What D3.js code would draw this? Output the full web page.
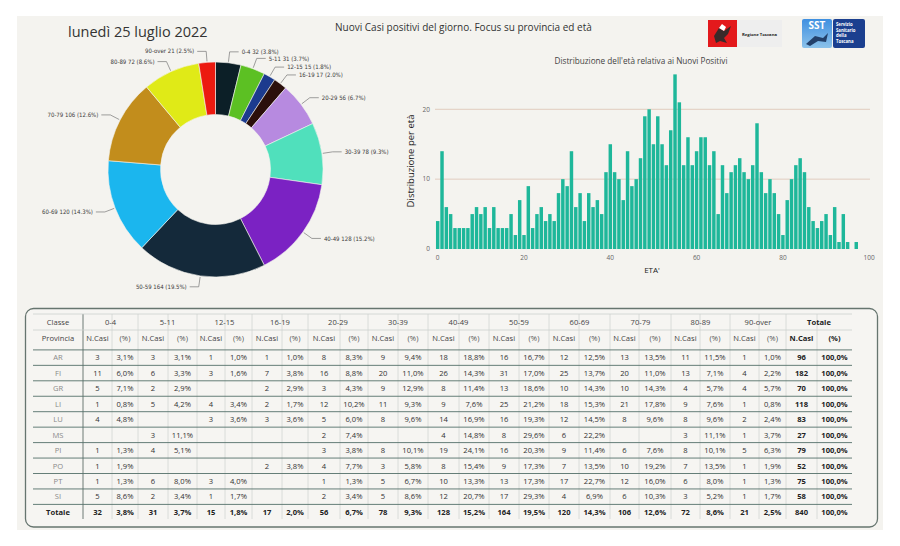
<!DOCTYPE html>
<html>
<head>
<meta charset="utf-8">
<script src="https://cdn.jsdelivr.net/npm/d3@7"></script>
<style>
  body { margin: 0; background: #fff; }
  svg { display: block; font-family: "Open Sans", sans-serif; }
</style>
</head>
<body>
<div id="vis"></div>
<script>
// age classes and provinces
const classes = ["0-4", "5-11", "12-15", "16-19", "20-29", "30-39", "40-49", "50-59", "60-69", "70-79", "80-89", "90-over"];
const provinces = ["AR", "FI", "GR", "LI", "LU", "MS", "PI", "PO", "PT", "SI"];

// new cases per province, one value per class (null = empty cell)
const casesAR = [3, 3, 1, 1, 8, 9, 18, 16, 12, 13, 11, 1];
const casesFI = [11, 6, 3, 7, 16, 20, 26, 31, 25, 20, 13, 4];
const casesGR = [5, 2, null, 2, 3, 9, 8, 13, 10, 10, 4, 4];
const casesLI = [1, 5, 4, 2, 12, 11, 9, 25, 18, 21, 9, 1];
const casesLU = [4, null, 3, 3, 5, 8, 14, 16, 12, 8, 8, 2];
const casesMS = [null, 3, null, null, 2, null, 4, 8, 6, null, 3, 1];
const casesPI = [1, 4, null, null, 3, 8, 19, 16, 9, 6, 8, 5];
const casesPO = [1, null, null, 2, 4, 3, 8, 9, 7, 10, 7, 1];
const casesPT = [1, 6, 3, null, 1, 5, 10, 13, 17, 12, 6, 1];
const casesSI = [5, 2, 1, null, 2, 5, 12, 17, 4, 6, 3, 1];

// new positives by single year of age, index = age (0..97)
const ageCounts = [
  4, 14, 6, 5, 3, 3, 3, 3, 5, 6,
  5, 6, 3, 6, 3, 3, 3, 5, 2, 7,
  2, 9, 3, 5, 6, 4, 5, 4, 8, 10,
  9, 14, 6, 8, 4, 8, 6, 7, 5, 11,
  15, 11, 10, 7, 14, 9, 10, 13, 19, 20,
  15, 19, 15, 12, 17, 25, 21, 12, 16, 12,
  14, 16, 16, 12, 14, 5, 12, 8, 11, 12,
  13, 11, 10, 12, 18, 11, 8, 10, 8, 5,
  2, 7, 10, 12, 13, 11, 6, 4, 3, 4,
  5, 2, 6, 1, 5, 1, 0, 1
];
const histTicksX = [0, 20, 40, 60, 80, 100];
const histTicksY = [0, 10, 20];

const sliceColors = ["#0c1f27", "#5cc023", "#1c3b8e", "#2b0f0b", "#b78ae0", "#50e0bc",
                     "#7b22c3", "#14293a", "#1bb6ee", "#c28d1c", "#e0ea17", "#ec1a10"];

const width = 900, height = 546;
const rows = [casesAR, casesFI, casesGR, casesLI, casesLU, casesMS, casesPI, casesPO, casesPT, casesSI];
const classTotals = classes.map((c, j) => d3.sum(rows, r => r[j] || 0));
const grandTotal = d3.sum(classTotals);

const svg = d3.select("#vis").append("svg")
  .attr("width", width).attr("height", height)
  .attr("viewBox", [0, 0, width, height]);

// page panel
svg.append("rect").attr("x", 17).attr("y", 16).attr("width", 866).attr("height", 514)
  .attr("fill", "#f4f3ef");

// titles
svg.append("text").attr("x", 68).attr("y", 37)
  .style("font-size", "14.5px").attr("fill", "#333")
  .text("lunedì 25 luglio 2022");
svg.append("text").attr("x", 335).attr("y", 31)
  .style("font-size", "10px").attr("fill", "#333")
  .text("Nuovi Casi positivi del giorno. Focus su provincia ed età");

// logos
const logo = svg.append("g");
logo.append("rect").attr("x", 708).attr("y", 20).attr("width", 29).attr("height", 27).attr("fill", "#e3191c");
logo.append("path").attr("d", "M714,36 L719,28 L724,31 L731,26 L728,34 L724,38 L727,43 L720,41 L716,43 Z")
  .attr("fill", "#3a2a2a");
logo.append("path").attr("d", "M719,28 L722,24 L726,27 L724,31 Z").attr("fill", "#fff");
logo.append("rect").attr("x", 737).attr("y", 20).attr("width", 45).attr("height", 27).attr("fill", "#eeeeee");
logo.append("text").attr("x", 759.5).attr("y", 35.5).attr("text-anchor", "middle")
  .style("font-size", "4.2px").style("font-weight", "bold").attr("fill", "#222").text("Regione Toscana");

const grad = svg.append("defs").append("linearGradient").attr("id", "sstg")
  .attr("x1", 0).attr("y1", 0).attr("x2", 0).attr("y2", 1);
grad.append("stop").attr("offset", 0).attr("stop-color", "#3f8fe0");
grad.append("stop").attr("offset", 1).attr("stop-color", "#8cc2ea");
logo.append("rect").attr("x", 802).attr("y", 19).attr("width", 30).attr("height", 29).attr("rx", 2).attr("fill", "url(#sstg)");
logo.append("text").attr("x", 817).attr("y", 29).attr("text-anchor", "middle")
  .style("font-size", "10px").style("font-weight", "bold").attr("fill", "#fff").text("SST");
logo.append("path").attr("d", "M806,44 L815,36 L823,38 L828,33 L826,42 L818,41 L810,46 Z").attr("fill", "#23406a");
logo.append("rect").attr("x", 833).attr("y", 19).attr("width", 32).attr("height", 29).attr("rx", 2).attr("fill", "#1b3f8f");
["Servizio", "Sanitario", "della", "Toscana"].forEach((t, i) => {
  logo.append("text").attr("x", 836).attr("y", 26 + i * 5.6)
    .style("font-size", "4.3px").style("font-weight", "bold").attr("fill", "#fff").text(t);
});

// ---------- donut ----------
function donut() {
  const cx = 215.5, cy = 169.5, rOut = 107.5, rIn = 55;
  const pie = d3.pie().sort(null).value(d => d.value);
  const arcs = pie(classes.map((c, i) => ({ name: c, value: classTotals[i], color: sliceColors[i] })));
  const arc = d3.arc().innerRadius(rIn).outerRadius(rOut);
  const g = svg.append("g").attr("transform", `translate(${cx},${cy})`);

  g.selectAll("path").data(arcs).join("path")
    .attr("d", arc)
    .attr("fill", d => d.data.color)
    .attr("stroke", "#f4f3ef").attr("stroke-width", 0.6);

  const pt = (a, r) => [r * Math.sin(a), -r * Math.cos(a)];
  const fmt = d3.format(".1f");

  const lab = g.append("g");
  arcs.forEach(d => {
    const a = (d.startAngle + d.endAngle) / 2;
    const right = a < Math.PI;
    const p1 = pt(a, rOut + 1), p2 = pt(a, rOut + 11);
    const p3 = [p2[0] + (right ? 9 : -9), p2[1]];
    lab.append("polyline")
      .attr("points", [p1, p2, p3].map(p => p.join(",")).join(" "))
      .attr("fill", "none").attr("stroke", "#777").attr("stroke-width", 0.7);
    lab.append("text")
      .attr("x", p3[0] + (right ? 3 : -3)).attr("y", p2[1]).attr("dy", "0.35em")
      .attr("text-anchor", right ? "start" : "end")
      .style("font-family", "'DejaVu Sans Condensed', sans-serif")
      .style("font-size", "6px").attr("fill", "#3a3a3a")
      .text(`${d.data.name} ${d.data.value} (${fmt(d.data.value / grandTotal * 100)}%)`);
  });
}

// ---------- histogram ----------
function histogram() {
  const x = d3.scaleLinear([0, 100], [437.7, 869.2]);
  const y = d3.scaleLinear([0, 20], [249, 109.3]);
  const g = svg.append("g");

  g.append("text").attr("x", 641).attr("y", 64).attr("text-anchor", "middle")
    .style("font-size", "8.2px").attr("fill", "#444")
    .text("Distribuzione dell'età relativa ai Nuovi Positivi");

  g.selectAll(".grid").data(histTicksY.filter(v => v > 0)).join("line")
    .attr("x1", 435).attr("x2", 870)
    .attr("y1", d => y(d)).attr("y2", d => y(d))
    .attr("stroke", "#dcc1b2").attr("stroke-width", 0.8);

  g.selectAll(".yt").data(histTicksY).join("text")
    .attr("x", 430).attr("y", d => y(d)).attr("dy", "0.35em").attr("text-anchor", "end")
    .style("font-size", "6.5px").attr("fill", "#666").text(d => d);

  const bw = (x(1) - x(0)) * 0.8;
  g.selectAll("rect").data(ageCounts).join("rect")
    .attr("x", (d, i) => x(i) - bw / 2)
    .attr("y", d => y(d))
    .attr("width", bw)
    .attr("height", d => y(0) - y(d))
    .attr("fill", "#1eb79a");

  g.selectAll(".xt").data(histTicksX).join("text")
    .attr("x", d => x(d)).attr("y", 259.5).attr("text-anchor", "middle")
    .style("font-size", "6.5px").attr("fill", "#666").text(d => d);

  g.append("text").attr("x", 652).attr("y", 273).attr("text-anchor", "middle")
    .style("font-size", "8px").attr("fill", "#222").text("ETA'");

  g.append("text").attr("transform", "translate(414,161) rotate(-90)")
    .attr("text-anchor", "middle")
    .style("font-size", "9.5px").attr("fill", "#222").text("Distribuzione per età");
}

// ---------- table ----------
function table() {
  const subW = [29, 26, 30, 29, 28, 27, 30, 26, 32, 28, 30, 30, 31, 30,
                30, 30, 30, 31, 29, 32, 29, 30, 29, 27, 31, 35];
  const x0 = 83, left = 33, right = 852;
  const edges = [x0];
  subW.forEach(w => edges.push(edges[edges.length - 1] + w));
  const colMid = i => (edges[i] + edges[i + 1]) / 2;

  const rowY = d3.scaleLinear([0, 1], [357.7, 373.15]);
  const hdr1 = 322.5, hdr2 = 338.5;
  const pct = v => d3.format(".1f")(v).replace(".", ",") + "%";

  const g = svg.append("g").style("font-size", "7.6px");

  g.append("rect").attr("x", 25.5).attr("y", 308.5).attr("width", 852).attr("height", 218.5)
    .attr("rx", 8).attr("fill", "#f6f5f2").attr("stroke", "#66756f").attr("stroke-width", 1.3);

  // vertical separators
  g.selectAll(".vl").data(edges.slice(1, -1)).join("line")
    .attr("x1", d => d).attr("x2", d => d).attr("y1", 314).attr("y2", 519)
    .attr("stroke", "#d3d6d3").attr("stroke-width", 0.8);
  g.append("line").attr("x1", x0).attr("x2", x0).attr("y1", 314).attr("y2", 519)
    .attr("stroke", "#5d6d68").attr("stroke-width", 0.9);

  // horizontal separators
  [314, 330].forEach(yy => g.append("line").attr("x1", left).attr("x2", right)
    .attr("y1", yy).attr("y2", yy).attr("stroke", "#cdd1ce").attr("stroke-width", 0.8));
  g.selectAll(".hl").data(d3.range(provinces.length + 1)).join("line")
    .attr("x1", left).attr("x2", right)
    .attr("y1", d => rowY(d) - 7.8).attr("y2", d => rowY(d) - 7.8)
    .attr("stroke", "#55706a").attr("stroke-width", 0.9);

  const txt = (xx, yy, t, opt = {}) => g.append("text")
    .attr("x", xx).attr("y", yy).attr("dy", "0.35em").attr("text-anchor", "middle")
    .style("font-weight", opt.bold ? "bold" : null)
    .attr("fill", opt.color || "#333").text(t);

  // headers
  txt((left + x0) / 2, hdr1, "Classe", { color: "#444" });
  txt((left + x0) / 2, hdr2, "Provincia", { color: "#444" });
  classes.concat(["Totale"]).forEach((c, j) => {
    const isTot = j === classes.length;
    txt((edges[2 * j] + edges[2 * j + 2]) / 2, hdr1, c, { bold: isTot, color: isTot ? "#222" : "#444" });
    txt(colMid(2 * j), hdr2, "N.Casi", { bold: isTot, color: isTot ? "#222" : "#444" });
    txt(colMid(2 * j + 1), hdr2, "(%)", { bold: isTot, color: isTot ? "#222" : "#555" });
  });

  // province rows
  rows.forEach((r, i) => {
    const yy = rowY(i);
    const tot = d3.sum(r, v => v || 0);
    txt((left + x0) / 2, yy, provinces[i], { color: "#8a8a8a" });
    r.forEach((v, j) => {
      if (v == null) return;
      txt(colMid(2 * j), yy, v);
      txt(colMid(2 * j + 1), yy, pct(v / tot * 100));
    });
    txt(colMid(24), yy, tot, { bold: true, color: "#222" });
    txt(colMid(25), yy, pct(100), { bold: true, color: "#222" });
  });

  // total row
  const yt = rowY(provinces.length);
  txt((left + x0) / 2, yt, "Totale", { bold: true, color: "#222" });
  classTotals.forEach((v, j) => {
    txt(colMid(2 * j), yt, v, { bold: true, color: "#222" });
    txt(colMid(2 * j + 1), yt, pct(v / grandTotal * 100), { bold: true, color: "#222" });
  });
  txt(colMid(24), yt, grandTotal, { bold: true, color: "#222" });
  txt(colMid(25), yt, pct(100), { bold: true, color: "#222" });
}

donut();
histogram();
table();
</script>
</body>
</html>
